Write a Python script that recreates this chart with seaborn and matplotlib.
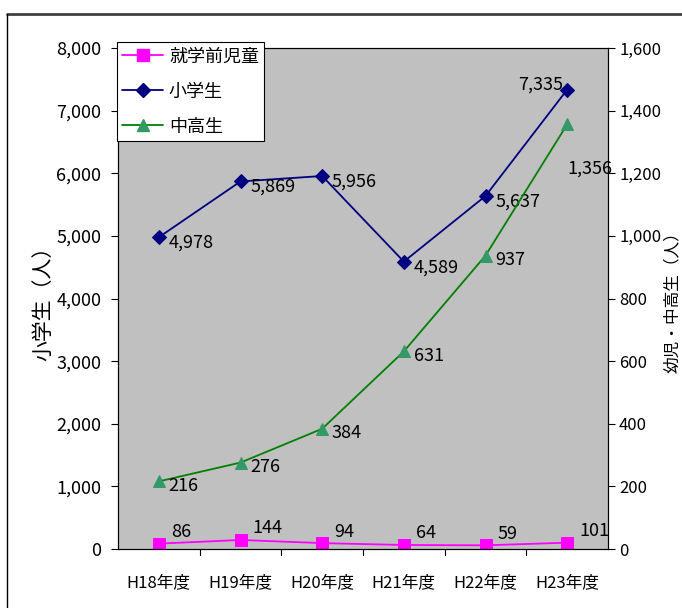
import matplotlib
matplotlib.use("Agg")
import matplotlib.pyplot as plt
import seaborn as sns
import pandas as pd
from matplotlib.lines import Line2D

sns.set_theme(style="white")
plt.rcParams['font.family'] = ['Noto Sans CJK JP', 'DejaVu Sans']
plt.rcParams['text.color'] = 'black'
plt.rcParams['xtick.color'] = 'black'
plt.rcParams['ytick.color'] = 'black'
plt.rcParams['axes.labelcolor'] = 'black'

categories = ["H18年度", "H19年度", "H20年度", "H21年度", "H22年度", "H23年度"]
preschool = [86, 144, 94, 64, 59, 101]
elementary = [4978, 5869, 5956, 4589, 5637, 7335]
secondary = [216, 276, 384, 631, 937, 1356]
left_ticks = [0, 1000, 2000, 3000, 4000, 5000, 6000, 7000, 8000]
right_ticks = [0, 200, 400, 600, 800, 1000, 1200, 1400, 1600]

df = pd.DataFrame({"x": range(len(categories)), "pre": preschool,
                   "ele": elementary, "sec": secondary})

FS = 13
fig = plt.figure(figsize=(6.82, 6.08), dpi=100)
ax = fig.add_axes([118/682, 1-549/608, 490/682, 501/608])
ax.set_facecolor("#C0C0C0")
ax2 = ax.twinx()

sns.lineplot(data=df, x="x", y="pre", ax=ax, color="#FF00FF", marker="s",
             markersize=8, markeredgecolor="#FF00FF", linewidth=1.3, label="就学前児童", legend=False)
sns.lineplot(data=df, x="x", y="ele", ax=ax, color="#000080", marker="D",
             markersize=7, markeredgecolor="#000080", linewidth=1.3, label="小学生", legend=False)
sns.lineplot(data=df, x="x", y="sec", ax=ax2, color="#008000", marker="^",
             markersize=9, markerfacecolor="#339966", markeredgecolor="#339966",
             linewidth=1.3, label="中高生", legend=False)

ax.set_xlim(-0.5, 5.5)
ax.set_ylim(0, 8000)
ax2.set_ylim(0, 1600)
ax.set_yticks(left_ticks)
ax.set_yticklabels([f"{v:,}" for v in left_ticks], fontsize=FS)
ax2.set_yticks(right_ticks)
ax2.set_yticklabels([f"{v:,}" for v in right_ticks], fontsize=12)
ax.set_xticks(range(len(categories)))
ax.set_xticklabels(categories, fontsize=12)
ax.tick_params(axis='x', length=0, pad=18)
for b in [0.5, 1.5, 2.5, 3.5, 4.5]:
    ax.plot([b, b], [0, -0.012], transform=ax.get_xaxis_transform(), color="black", lw=0.8, clip_on=False)
ax.tick_params(axis='y', direction='out', length=5, width=0.8, color="black", pad=7, left=True)
ax2.tick_params(axis='y', direction='out', length=5, width=0.8, color="black", pad=3, right=True)
for a in (ax, ax2):
    for s in a.spines.values():
        s.set_color("black")
        s.set_linewidth(0.8)
ax.set_xlabel("")
ax.set_ylabel("小学生（人）", fontsize=15)
ax.yaxis.set_label_coords(-0.13, 0.5)
ax2.set_ylabel("幼児・中高生（人）", fontsize=12)
ax2.yaxis.set_label_coords(1.115, 0.5)

for i, v in enumerate(preschool):
    ax.text(i + 0.15, v + 40, f"{v:,}", fontsize=FS, ha="left", va="bottom")
for i, v in enumerate(elementary):
    if i == 5:
        ax.text(i - 0.05, v + 80, f"{v:,}", fontsize=FS, ha="right", va="center")
    else:
        ax.text(i + 0.12, v - 90, f"{v:,}", fontsize=FS, ha="left", va="center")
for i, v in enumerate(secondary):
    if i == 5:
        ax2.text(i + 0.0, v - 140, f"{v:,}", fontsize=FS, ha="left", va="center")
    else:
        ax2.text(i + 0.12, v - 15, f"{v:,}", fontsize=FS, ha="left", va="center")

handles = [
    Line2D([], [], color="#FF00FF", marker="s", markersize=8, lw=1.3),
    Line2D([], [], color="#000080", marker="D", markersize=7, lw=1.3),
    Line2D([], [], color="#008000", marker="^", markersize=9, markerfacecolor="#339966",
           markeredgecolor="#339966", lw=1.3),
]
leg = ax2.legend(handles, ["就学前児童", "小学生", "中高生"], loc="upper left",
                 bbox_to_anchor=(-0.003, 1.012), fontsize=13, frameon=True, fancybox=False,
                 framealpha=1, edgecolor="black", borderpad=0.3, handlelength=2.3,
                 labelspacing=0.95, handletextpad=0.3, borderaxespad=0)
leg.get_frame().set_linewidth(0.8)

fig.add_artist(Line2D([7/682, 1.0], [1-14/608, 1-14/608], color="#404040", lw=2))
fig.add_artist(Line2D([7/682, 7/682], [0, 1-14/608], color="black", lw=1))

fig.savefig("out.png", dpi=100)
